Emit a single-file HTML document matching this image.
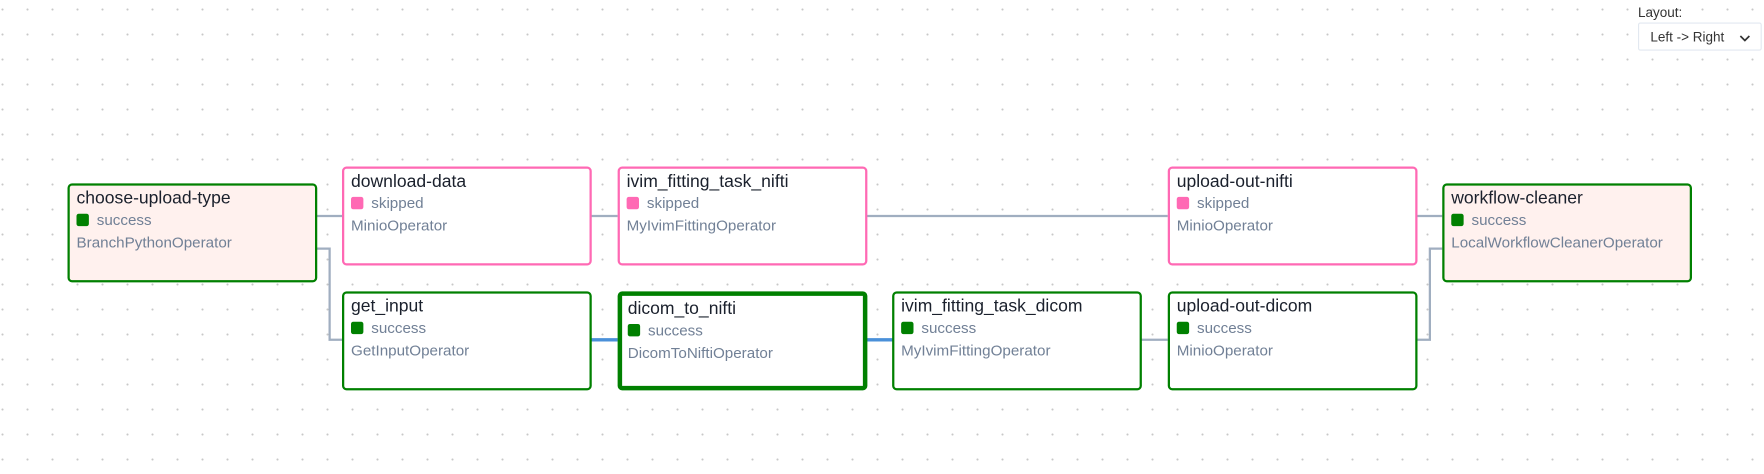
<!DOCTYPE html>
<html><head><meta charset="utf-8"><style>
html,body{margin:0;padding:0;}
body{width:1764px;height:474px;overflow:hidden;background:#fff;position:relative;
background-image:radial-gradient(circle,#c8c8c8 0.9px,transparent 1.2px);background-size:25px 25px;background-position:-10px -3px;font-family:"Liberation Sans",sans-serif;}
#s{position:absolute;left:0;top:0;width:1568px;height:421px;transform:scale(1.125);transform-origin:0 0;}
.n{position:absolute;box-sizing:border-box;width:222px;height:88px;border:2px solid #008000;border-radius:4px;background:#fff;padding:2px 0 0 6px;}
.n.sk{border-color:#ff69b4;}
.n.br{background:#fff1ee;}
.n.big{border-width:4px;padding:2px 0 0 5px;}
.t{font-size:15.6px;color:#1a202c;line-height:20px;}
.st{font-size:13.5px;color:#718096;line-height:20px;margin-top:-1px;}
.st i{display:inline-block;width:11px;height:11px;border-radius:2px;background:#008000;margin-right:7px;vertical-align:-1px;}
.sk .st i{background:#ff69b4;}
.op{font-size:13.5px;color:#718096;line-height:20px;}
svg{position:absolute;left:0;top:0;}
</style></head><body>
<div id="s">
<svg width="1568" height="421">
<g fill="none" stroke="#a0aec0" stroke-width="2">
<path d="M281 192H305"/><path d="M281 221H293V302H305"/>
<path d="M525 192H549"/><path d="M770 192H1038"/>
<path d="M1014 302H1038"/><path d="M1259 192H1282"/>
<path d="M1259 302H1271V221H1282"/>
</g>
<g stroke="#4a90d9" stroke-width="3"><path d="M525 302H549"/><path d="M770 302H794"/></g>
</svg>
<div class="n br" style="left:60px;top:163px"><div class="t">choose-upload-type</div><div class="st"><i></i>success</div><div class="op">BranchPythonOperator</div></div>
<div class="n sk" style="left:304px;top:148px"><div class="t">download-data</div><div class="st"><i></i>skipped</div><div class="op">MinioOperator</div></div>
<div class="n sk" style="left:549px;top:148px"><div class="t">ivim_fitting_task_nifti</div><div class="st"><i></i>skipped</div><div class="op">MyIvimFittingOperator</div></div>
<div class="n" style="left:304px;top:259px"><div class="t">get_input</div><div class="st"><i></i>success</div><div class="op">GetInputOperator</div></div>
<div class="n big" style="left:549px;top:259px"><div class="t">dicom_to_nifti</div><div class="st"><i></i>success</div><div class="op">DicomToNiftiOperator</div></div>
<div class="n" style="left:793px;top:259px"><div class="t">ivim_fitting_task_dicom</div><div class="st"><i></i>success</div><div class="op">MyIvimFittingOperator</div></div>
<div class="n sk" style="left:1038px;top:148px"><div class="t">upload-out-nifti</div><div class="st"><i></i>skipped</div><div class="op">MinioOperator</div></div>
<div class="n" style="left:1038px;top:259px"><div class="t">upload-out-dicom</div><div class="st"><i></i>success</div><div class="op">MinioOperator</div></div>
<div class="n br" style="left:1282px;top:163px"><div class="t">workflow-cleaner</div><div class="st"><i></i>success</div><div class="op">LocalWorkflowCleanerOperator</div></div>
<div style="position:absolute;left:1456px;top:4px;font-size:12px;color:#333">Layout:</div>
<div style="position:absolute;left:1456px;top:20px;width:110px;height:25px;box-sizing:border-box;border:1px solid #e2e8f0;border-radius:2px;background:#fff;font-size:12px;color:#333;padding:5px 0 0 10px;">Left -&gt; Right<svg width="10" height="6" style="left:89px;top:10px"><path d="M1 1L5 5L9 1" stroke="#333" stroke-width="1.5" fill="none"/></svg></div>
</div>
</body></html>
